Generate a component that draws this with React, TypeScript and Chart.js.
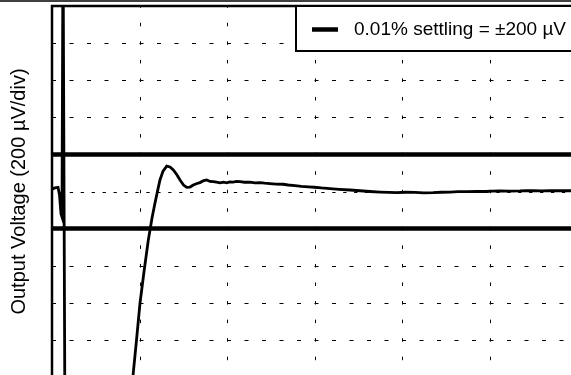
import React, { useEffect, useRef } from "react";
import { Chart, registerables } from "chart.js";

Chart.register(...registerables);

// time axis in divisions, output in µV (200 µV/div)
const timeDiv = [
  0.0, 0.034, 0.069, 0.086, 0.103, 0.114, 0.126, 0.149, 0.857, 0.929, 0.966, 1.006, 1.051, 1.101,
  1.143, 1.177, 1.211, 1.234, 1.269, 1.311, 1.349, 1.387, 1.429, 1.463, 1.503, 1.539, 1.577, 1.615,
  1.657, 1.691, 1.726, 1.768, 1.806, 1.843, 1.88, 1.92, 1.96, 1.997, 2.03, 2.069, 2.11, 2.149, 2.2,
  2.263, 2.32, 2.377, 2.43, 2.491, 2.56, 2.64, 2.7, 2.777, 2.85, 2.93, 2.998, 3.08, 3.177, 3.28,
  3.406, 3.52, 3.634, 3.75, 3.85, 3.939, 4.04, 4.149, 4.25, 4.354, 4.45, 4.549, 4.64, 4.739, 4.85,
  4.949, 5.03, 5.12, 5.23, 5.349, 5.42, 5.497, 5.6, 5.691, 5.8, 5.92, 6.0,
];
const outputUV = [
  13, 19, 22, -19, -121, -137, 1400, -1400, -1447, -978, -800, -601, -434, -261,
  -143, -62, 13, 62, 110, 137, 132, 116, 89, 62, 35, 22, 24, 35,
  43, 48, 57, 62, 54, 53, 50, 47, 50, 47, 52, 51, 54, 53, 50,
  50, 47, 48, 45, 43, 40, 39, 35, 32, 28, 25, 23, 19, 16, 12,
  8, 4, 0, -3, -5, -6, -4, -5, -7, -6, -4, -3, -1, -1, 1,
  0, 2, 3, 2, 3, 5, 4, 3, 4, 5, 4, 4,
];
const settlingUV = 200;
const xTicks = [0, 1, 2, 3, 4, 5, 6];
const yTicks = [-1000, -800, -600, -400, -200, 0, 200, 400, 600, 800, 1000];
const legendLabel = "0.01% settling = \u00b1200 \u00b5V";
const yTitle = "Output Voltage (200 \u00b5V/div)";

const FONT = "Arial, 'Liberation Sans', Helvetica, sans-serif";

const gridPlugin = {
  id: "scopeGrid",
  beforeDatasetsDraw(chart: any) {
    const { ctx, chartArea: a, scales } = chart;
    const x = scales.x;
    const y = scales.y;
    const divW = x.getPixelForValue(1) - x.getPixelForValue(0);
    const divH = y.getPixelForValue(0) - y.getPixelForValue(200);
    ctx.save();
    ctx.strokeStyle = "#000";
    ctx.lineWidth = 1;
    // vertical grid lines: short dashes every half division
    xTicks.forEach((v) => {
      const px = Math.round(x.getPixelForValue(v)) + 0.5;
      ctx.setLineDash([3.5, divH / 2 - 3.5]);
      ctx.lineDashOffset = 1.75;
      ctx.beginPath();
      ctx.moveTo(px, a.top);
      ctx.lineTo(px, a.bottom);
      ctx.stroke();
    });
    // horizontal grid lines
    yTicks.forEach((v) => {
      const py = Math.round(y.getPixelForValue(v)) + 0.5;
      if (v === 0) {
        ctx.setLineDash([3.3, divW / 8 - 3.3]);
        ctx.lineDashOffset = -(divW / 8 - 3.3) / 2 - 3;
      } else {
        ctx.setLineDash([4, divW / 5 - 4]);
        ctx.lineDashOffset = 0;
      }
      ctx.beginPath();
      ctx.moveTo(a.left, py);
      ctx.lineTo(a.right, py);
      ctx.stroke();
    });
    ctx.restore();
  },
  afterDatasetsDraw(chart: any) {
    const { ctx, chartArea: a, width } = chart;
    ctx.save();
    ctx.strokeStyle = "#000";
    ctx.lineWidth = 2.5;
    ctx.strokeRect(a.left, a.top, a.right - a.left, a.bottom - a.top);
    // page rule at the very top
    ctx.lineWidth = 1.5;
    ctx.beginPath();
    ctx.moveTo(0, 1);
    ctx.lineTo(width, 1);
    ctx.stroke();
    // legend box
    const ds = chart.data.datasets[1];
    const bx = 296;
    const by = a.top;
    const bh = 45;
    ctx.fillStyle = "#fff";
    ctx.fillRect(bx, by, width - bx + 10, bh);
    ctx.lineWidth = 2;
    ctx.strokeRect(bx, by, width - bx + 10, bh);
    ctx.strokeStyle = ds.borderColor;
    ctx.lineWidth = 4.5;
    ctx.beginPath();
    ctx.moveTo(312, by + 23.5);
    ctx.lineTo(338, by + 23.5);
    ctx.stroke();
    ctx.fillStyle = "#000";
    ctx.font = `19px ${FONT}`;
    ctx.textBaseline = "middle";
    ctx.fillText(ds.label, 354, by + 24);
    ctx.restore();
  },
};

export default function App() {
  const ref = useRef<HTMLCanvasElement | null>(null);
  useEffect(() => {
    if (!ref.current) return;
    const trace = timeDiv.map((t, i) => ({ x: t, y: outputUV[i] }));
    const chart = new Chart(ref.current, {
      type: "line",
      data: {
        datasets: [
          {
            label: "Output",
            data: trace,
            borderColor: "#000",
            borderWidth: 2.8,
            pointRadius: 0,
            tension: 0,
          },
          {
            label: legendLabel,
            data: [
              { x: 0, y: settlingUV },
              { x: 6, y: settlingUV },
            ],
            borderColor: "#000",
            borderWidth: 4.5,
            pointRadius: 0,
          },
          {
            label: "lower",
            data: [
              { x: 0, y: -settlingUV },
              { x: 6, y: -settlingUV },
            ],
            borderColor: "#000",
            borderWidth: 4.5,
            pointRadius: 0,
          },
        ],
      },
      options: {
        responsive: false,
        animation: false,
        devicePixelRatio: 1,
        layout: { padding: { left: 0, top: 6, right: 13, bottom: 13 } },
        plugins: { legend: { display: false }, tooltip: { enabled: false } },
        scales: {
          x: {
            type: "linear",
            min: 0,
            max: 6,
            display: false,
          },
          y: {
            type: "linear",
            min: -1000,
            max: 1000,
            ticks: { display: false, stepSize: 200 },
            grid: { display: false, drawTicks: false },
            border: { display: false },
            title: {
              display: true,
              text: yTitle,
              color: "#000",
              font: { family: FONT, size: 20, weight: "normal", lineHeight: 1.2 },
              padding: { top: 7, bottom: 21 },
            },
          },
        },
      },
      plugins: [gridPlugin],
    });
    return () => chart.destroy();
  }, []);
  return (
    <div
      style={{
        position: "fixed",
        left: 0,
        top: 0,
        width: 571,
        height: 375,
        overflow: "hidden",
        background: "#fff",
      }}
    >
      <canvas ref={ref} width={590} height={390} style={{ display: "block" }} />
    </div>
  );
}
